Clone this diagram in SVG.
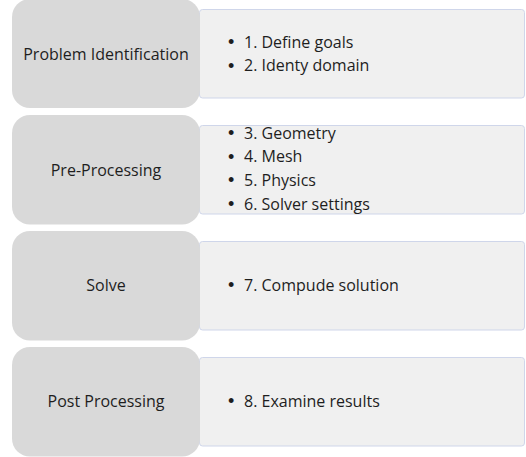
<svg xmlns="http://www.w3.org/2000/svg" width="526" height="457" viewBox="0 0 526 457">
  <style>
    .stage { fill: #d9d9d9; }
    .detail { fill: #f0f0f0; stroke: #cfd6ea; stroke-width: 1; }
    text { font-family: "Open Sans", "Noto Sans", "Liberation Sans", sans-serif; font-size: 16px; fill: #1e1e1e; }
    .title { text-anchor: middle; }
    .dot { font-family: "Liberation Sans", sans-serif; font-size: 18px; }
  </style>
  <rect width="526" height="457" fill="#ffffff"/>

  <!-- Stage 1 -->
  <g id="detail-1">
    <rect class="detail" x="199.5" y="9.5" width="325" height="88.5" rx="3"/>
    <text class="dot" x="228" y="48">•</text><text x="244" y="47.5">1. Define goals</text>
    <text class="dot" x="228" y="71.5">•</text><text x="244" y="71">2. Identy domain</text>
  </g>
  <g id="stage-1">
    <rect class="stage" x="12" y="-1" width="188" height="109" rx="18"/>
    <text class="title" x="106" y="59.5">Problem Identification</text>
  </g>

  <!-- Stage 2 -->
  <g id="detail-2">
    <rect class="detail" x="199.5" y="125.5" width="325" height="88.5" rx="3"/>
    <text class="dot" x="228" y="139">•</text><text x="244" y="138.5">3. Geometry</text>
    <text class="dot" x="228" y="162.7">•</text><text x="244" y="162.2">4. Mesh</text>
    <text class="dot" x="228" y="186.4">•</text><text x="244" y="185.9">5. Physics</text>
    <text class="dot" x="228" y="210">•</text><text x="244" y="209.5">6. Solver settings</text>
  </g>
  <g id="stage-2">
    <rect class="stage" x="12" y="115" width="188" height="109.5" rx="18"/>
    <text class="title" x="106" y="175.5">Pre-Processing</text>
  </g>

  <!-- Stage 3 -->
  <g id="detail-3">
    <rect class="detail" x="199.5" y="241.5" width="325" height="88.5" rx="3"/>
    <text class="dot" x="228" y="290.5">•</text><text x="244" y="290.5">7. Compude solution</text>
  </g>
  <g id="stage-3">
    <rect class="stage" x="12" y="231" width="188" height="109.5" rx="18"/>
    <text class="title" x="106" y="290.5">Solve</text>
  </g>

  <!-- Stage 4 -->
  <g id="detail-4">
    <rect class="detail" x="199.5" y="357.5" width="325" height="88.5" rx="3"/>
    <text class="dot" x="228" y="406.5">•</text><text x="244" y="406.5">8. Examine results</text>
  </g>
  <g id="stage-4">
    <rect class="stage" x="12" y="347" width="188" height="109.5" rx="18"/>
    <text class="title" x="106" y="406.5">Post Processing</text>
  </g>

  <g id="connectors"/>
</svg>
